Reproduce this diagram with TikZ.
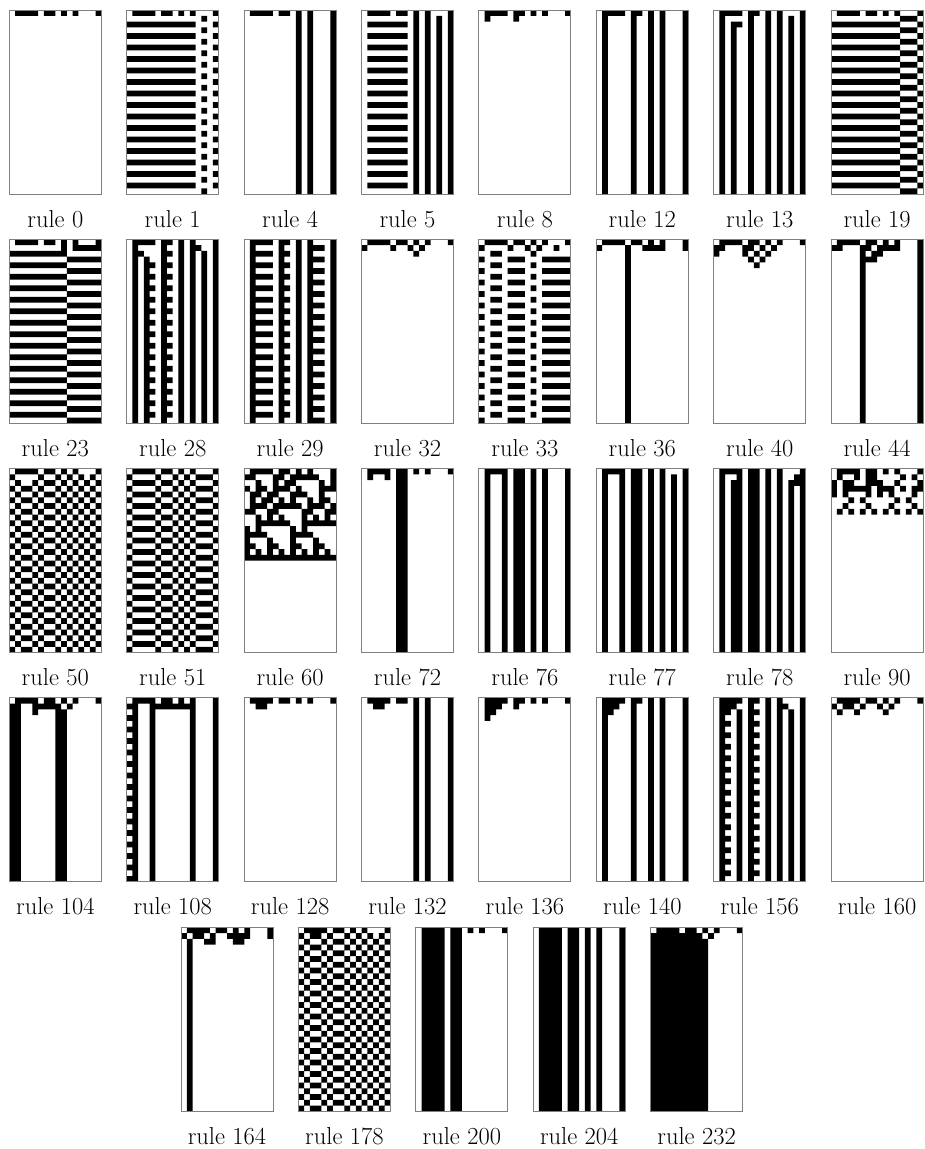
\documentclass[tikz,border=0pt]{standalone}
\tikzset{
  cellfill/.style={fill=black},
  panelframe/.style={draw=black!50, line width=0.9pt},
  rulelabel/.style={anchor=base, font=\fontsize{24.5}{29}\selectfont, inner sep=0pt},
}
\newcommand\caCellSize{5.75}
\ExplSyntaxOn
\tl_new:N \l_ca_state_tl
\tl_new:N \l_ca_next_tl
\tl_new:N \l_ca_bits_tl
\tl_new:N \l_ca_path_tl
\int_new:N \l_ca_tmp_int
\int_new:N \l_ca_code_int
\int_new:N \l_ca_row_int
\int_new:N \l_ca_col_int
\cs_new_protected:Npn \ca_fill:n #1 { \fill[cellfill]~#1~; }
\cs_new_protected:Npn \ca_panel:nnn #1#2#3
 {
   \tl_clear:N \l_ca_bits_tl
   \int_set:Nn \l_ca_tmp_int {#1}
   \prg_replicate:nn {8}
    {
      \tl_put_right:Nx \l_ca_bits_tl { \int_mod:nn {\l_ca_tmp_int}{2} }
      \int_set:Nn \l_ca_tmp_int { \int_div_truncate:nn {\l_ca_tmp_int}{2} }
    }
   \tl_set:Nn \l_ca_state_tl {0111101101010001}
   \tl_clear:N \l_ca_path_tl
   \int_zero:N \l_ca_row_int
   \prg_replicate:nn {32}
    {
      \int_zero:N \l_ca_col_int
      \tl_clear:N \l_ca_next_tl
      \prg_replicate:nn {16}
       {
         \int_compare:nNnT { \tl_item:Nn \l_ca_state_tl { \l_ca_col_int + 1 } } = { 1 }
          {
            \tl_put_right:Nx \l_ca_path_tl
             {
               ( \fp_eval:n { #2 + \l_ca_col_int * \caCellSize } ,
                 \fp_eval:n { #3 + \l_ca_row_int * \caCellSize } )
               ~rectangle~
               ( \fp_eval:n { #2 + (\l_ca_col_int + 1) * \caCellSize } ,
                 \fp_eval:n { #3 + (\l_ca_row_int + 1) * \caCellSize } ) ~
             }
          }
         \int_set:Nn \l_ca_code_int
          {
            4 * \tl_item:Nn \l_ca_state_tl { \int_mod:nn { \l_ca_col_int + 15 } { 16 } + 1 }
            + 2 * \tl_item:Nn \l_ca_state_tl { \l_ca_col_int + 1 }
            + \tl_item:Nn \l_ca_state_tl { \int_mod:nn { \l_ca_col_int + 1 } { 16 } + 1 }
          }
         \tl_put_right:Nx \l_ca_next_tl { \tl_item:Nn \l_ca_bits_tl { \l_ca_code_int + 1 } }
         \int_incr:N \l_ca_col_int
       }
      \tl_set_eq:NN \l_ca_state_tl \l_ca_next_tl
      \int_incr:N \l_ca_row_int
    }
   \tl_if_empty:NF \l_ca_path_tl
    { \exp_args:NV \ca_fill:n \l_ca_path_tl }
 }
\NewDocumentCommand \CApanel { m m m } { \ca_panel:nnn {#1} {#2} {#3} }
\ExplSyntaxOff
\begin{document}
\begin{tikzpicture}[x=1pt,y=-1pt]
\useasboundingbox (0,0) rectangle (925,1149);
\foreach \rl [count=\i from 0] in {0,1,4,5,8,12,13,19,23,28,29,32,33,36,40,44,50,51,60,72,76,77,78,90,104,108,128,132,136,140,156,160} {
  \pgfmathtruncatemacro\rowi{int(\i/8)}
  \pgfmathtruncatemacro\coli{mod(\i,8)}
  \pgfmathsetmacro\px{9.3+117.4*\coli}
  \pgfmathsetmacro\py{10+229.3*\rowi}
  \CApanel{\rl}{\px}{\py}
  \draw[panelframe] (\px,\py) rectangle ++(92,184);
  \node[rulelabel] (lab\rl) at (\px+46,\py+217) {rule \rl};
}
\foreach \rl [count=\i from 0] in {164,178,200,204,232} {
  \pgfmathsetmacro\px{181+117.4*\i}
  \pgfmathsetmacro\py{927.3}
  \CApanel{\rl}{\px}{\py}
  \draw[panelframe] (\px,\py) rectangle ++(92,184);
  \node[rulelabel] (lab\rl) at (\px+46,\py+217) {rule \rl};
}
\end{tikzpicture}
\end{document}
